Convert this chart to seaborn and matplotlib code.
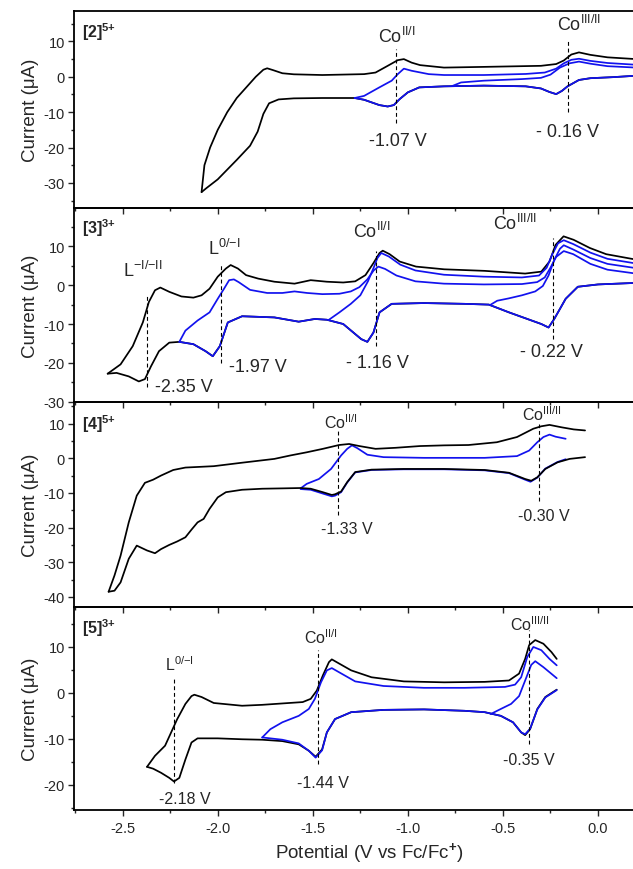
import matplotlib
matplotlib.use("Agg")
import matplotlib.pyplot as plt
from matplotlib.ticker import MultipleLocator, FormatStrFormatter
import pandas as pd
import seaborn as sns

BLACK = "#000000"
BLUE = "#1212ee"

# ---------------- panel [2]5+ ----------------
P1_UP_V = [-2.085, -2.070, -2.040, -2.000, -1.950, -1.900, -1.850, -1.800, -1.760, -1.740, -1.710, -1.660, -1.600,
           -1.450, -1.230, -1.170, -1.106, -1.053, -1.021, -0.980, -0.936, -0.810, -0.600, -0.300, -0.220, -0.180,
           -0.140, -0.100, -0.040, 0.050, 0.200]
P1_UP_I = [-32.6, -25.0, -20.0, -15.0, -10.0, -6.0, -3.0, 0.0, 2.0, 2.4, 1.9, 1.0, 0.7,
           0.5, 0.75, 1.2, 3.1, 4.7, 5.0, 4.0, 3.3, 2.6, 2.8, 3.1, 3.6, 4.6,
           6.3, 6.9, 6.2, 5.5, 5.0]
P1_LOWL_V = [-2.085, -2.060, -2.000, -1.900, -1.830, -1.790, -1.760, -1.730, -1.680, -1.600, -1.450, -1.280]
P1_LOWL_I = [-32.6, -31.5, -29.0, -23.5, -19.5, -15.5, -10.5, -7.5, -6.4, -6.1, -6.0, -6.0]
P1_LOW_V = [-1.280, -1.230, -1.150, -1.106, -1.074, -1.043, -1.000, -0.940, -0.810, -0.600, -0.380, -0.300,
            -0.255, -0.220, -0.190, -0.160, -0.100, -0.040, 0.080, 0.200]
P1_LOW_I = [-6.0, -6.5, -8.0, -8.4, -8.0, -6.3, -4.4, -3.0, -2.7, -2.5, -2.7, -3.3,
            -4.3, -4.9, -4.0, -2.7, -0.9, -0.4, -0.1, 0.3]
P1_BLUE_A_V = [-1.280, -1.230, -1.150, -1.085, -1.053, -1.021, -0.980, -0.890, -0.810, -0.600, -0.380, -0.280,
               -0.220, -0.180, -0.140, -0.100, -0.040, 0.050, 0.200]
P1_BLUE_A_I = [-6.0, -5.4, -3.0, -1.1, 0.75, 2.3, 1.7, 0.75, 0.5, 0.5, 0.8, 1.2,
               2.3, 3.8, 4.8, 5.1, 4.5, 3.9, 3.4]
P1_BLUE_B_V = [-0.766, -0.720, -0.600, -0.400, -0.300, -0.250, -0.200, -0.150, -0.100, -0.040, 0.050, 0.200]
P1_BLUE_B_I = [-2.6, -1.6, -1.1, -0.65, -0.3, 0.6, 2.6, 3.8, 4.3, 3.7, 3.0, 2.6]

P1_DASH_V = [-1.06, -0.16]
P1_DASH_LO = [-13.1, -10.0]
P1_DASH_HI = [7.8, 10.8]
P1_TEXT = [r"Co$^{\rm II/I}$", r"Co$^{\rm III/II}$", "-1.07 V", "- 0.16 V"]
P1_TEXT_V = [-1.06, -0.10, -1.05, -0.16]
P1_TEXT_I = [11.5, 14.9, -18.0, -15.5]

# ---------------- panel [3]3+ ----------------
P2_UP_V = [-2.579, -2.511, -2.447, -2.394, -2.362, -2.330, -2.302, -2.255, -2.191, -2.128, -2.085, -2.043, -2.000,
           -1.957, -1.932, -1.894, -1.851, -1.787, -1.702, -1.596, -1.511, -1.426, -1.340, -1.277, -1.223, -1.181,
           -1.149, -1.132, -1.096, -1.043, -0.957, -0.809, -0.596, -0.383, -0.298, -0.255, -0.223, -0.181, -0.128,
           -0.043, 0.043, 0.200]
P2_UP_I = [-22.8, -20.4, -15.7, -9.6, -4.3, -1.3, -0.6, -1.7, -2.9, -3.2, -2.6, -0.9, 2.2,
           4.3, 5.2, 4.3, 2.6, 1.7, 0.9, 0.4, 1.3, 0.9, 0.7, 1.0, 2.6, 5.7,
           8.3, 8.9, 8.0, 6.1, 4.8, 4.1, 3.7, 3.0, 3.5, 6.1, 10.4, 12.6, 11.7,
           9.6, 8.0, 6.6]
P2_LOWL_V = [-2.579, -2.532, -2.468, -2.415, -2.383, -2.351, -2.309, -2.255, -2.202]
P2_LOWL_I = [-22.8, -22.6, -23.5, -24.8, -24.2, -20.9, -17.0, -14.8, -14.6]
P2_LOW_V = [-2.202, -2.128, -2.064, -2.026, -1.989, -1.947, -1.872, -1.702, -1.574, -1.489, -1.426, -1.340,
            -1.245, -1.213, -1.181, -1.149, -1.085, -0.915, -0.702, -0.574, -0.468, -0.298, -0.260, -0.230,
            -0.170, -0.106, 0.000, 0.200]
P2_LOW_I = [-14.6, -15.2, -17.0, -18.3, -15.7, -9.6, -8.0, -8.3, -9.4, -8.7, -8.9, -10.0,
            -13.9, -14.6, -12.2, -7.0, -4.8, -4.6, -4.8, -5.0, -7.0, -10.0, -10.9, -8.7,
            -3.5, -0.4, 0.2, 0.6]
P2_BLUE_A_V = [-2.202, -2.170, -2.106, -2.043, -2.000, -1.968, -1.940, -1.915, -1.890, -1.830, -1.740, -1.660,
               -1.596, -1.530, -1.450, -1.360, -1.300, -1.255, -1.213, -1.180, -1.155, -1.120, -1.060, -0.960,
               -0.810, -0.600, -0.400, -0.320, -0.280, -0.250, -0.220, -0.180, -0.130, -0.040, 0.050, 0.200]
P2_BLUE_A_I = [-14.6, -11.7, -9.1, -7.0, -3.5, -1.0, 1.3, 1.5, 0.8, -1.2, -2.0, -2.0,
               -1.6, -2.0, -2.3, -2.2, -1.6, -0.5, 1.5, 3.8, 4.8, 4.2, 2.5, 1.0,
               0.4, 0.2, 0.3, 0.8, 2.0, 4.5, 7.3, 8.8, 8.0, 5.5, 4.0, 3.0]
P2_BLUE_B_V = [-1.415, -1.360, -1.300, -1.250, -1.210, -1.180, -1.160, -1.140, -1.100, -1.040, -0.960, -0.810,
               -0.600, -0.400, -0.310, -0.270, -0.240, -0.210, -0.180, -0.130, -0.040, 0.050, 0.200]
P2_BLUE_B_I = [-8.9, -7.0, -4.8, -2.6, 1.0, 4.5, 7.0, 8.3, 7.4, 5.3, 3.8, 2.7,
               2.2, 2.0, 2.5, 4.5, 8.0, 10.8, 11.6, 10.6, 8.4, 6.8, 5.6]
P2_BLUE_C_V = [-0.564, -0.530, -0.470, -0.400, -0.330, -0.290, -0.260, -0.230, -0.200, -0.180, -0.130, -0.040,
               0.050, 0.200]
P2_BLUE_C_I = [-5.0, -4.0, -3.4, -2.6, -1.6, -0.2, 2.5, 6.5, 9.4, 10.3, 9.2, 7.0,
               5.5, 4.4]

P2_DASH_V = [-2.372, -1.983, -1.170, -0.234]
P2_DASH_LO = [-26.3, -20.0, -15.7, -13.9]
P2_DASH_HI = [-2.2, 5.7, 8.7, 12.2]
P2_TEXT = [r"L$^{\rm {-}I/{-}II}$", r"L$^{\rm 0/{-}I}$", r"Co$^{\rm II/I}$", r"Co$^{\rm III/II}$",
           "-2.35 V", "-1.97 V", "- 1.16 V", "- 0.22 V"]
P2_TEXT_V = [-2.394, -1.968, -1.191, -0.434, -2.18, -1.79, -1.16, -0.247]
P2_TEXT_I = [3.9, 9.6, 13.9, 16.1, -26.1, -20.9, -20.0, -17.0]

# ---------------- panel [4]5+ ----------------
P3_UP_V = [-2.574, -2.543, -2.511, -2.468, -2.426, -2.383, -2.340, -2.298, -2.234, -2.170, -2.021, -1.872, -1.702,
           -1.617, -1.532, -1.447, -1.362, -1.309, -1.255, -1.170, -1.064, -0.936, -0.809, -0.681, -0.532, -0.426,
           -0.340, -0.298, -0.255, -0.191, -0.128, -0.068]
P3_UP_I = [-38.5, -33.8, -28.1, -18.5, -10.8, -7.1, -6.2, -5.0, -3.4, -2.7, -2.3, -1.3, -0.2,
           0.8, 1.7, 2.7, 3.8, 4.1, 3.5, 2.7, 3.0, 3.5, 3.7, 3.8, 4.6, 6.1,
           8.5, 9.2, 9.6, 8.9, 8.3, 8.0]
P3_LOWL_V = [-2.574, -2.543, -2.511, -2.468, -2.426, -2.372, -2.330, -2.298, -2.255, -2.213, -2.170, -2.138,
             -2.106, -2.074, -2.043, -2.000, -1.957, -1.872, -1.766, -1.660, -1.564]
P3_LOWL_I = [-38.5, -38.2, -35.8, -29.0, -25.2, -26.6, -27.4, -26.2, -25.0, -24.0, -22.8, -20.6,
             -18.5, -17.5, -14.6, -11.3, -9.8, -9.1, -8.8, -8.7, -8.6]
P3_LOW_V = [-1.564, -1.511, -1.447, -1.400, -1.383, -1.351, -1.319, -1.277, -1.191, -1.021, -0.809, -0.596,
            -0.468, -0.383, -0.351, -0.319, -0.277, -0.213, -0.149, -0.068]
P3_LOW_I = [-8.6, -8.8, -9.8, -10.6, -10.4, -9.6, -6.9, -4.0, -3.3, -3.1, -3.1, -3.4,
            -4.2, -6.0, -6.5, -5.5, -3.1, -1.2, -0.2, 0.3]
P3_BLUE_V = [-1.564, -1.532, -1.468, -1.404, -1.351, -1.319, -1.294, -1.266, -1.213, -1.128, -0.915, -0.596,
             -0.426, -0.362, -0.319, -0.287, -0.255, -0.223, -0.170]
P3_BLUE_I = [-8.7, -7.4, -6.0, -3.1, 0.8, 2.7, 3.7, 2.9, 1.0, 0.3, 0.1, 0.1,
             0.6, 2.2, 4.6, 6.1, 6.8, 6.2, 5.6]
P3_BLUE_LOW_V = [-1.564, -1.511, -1.447, -1.400, -1.383, -1.351, -1.319, -1.277, -1.191, -1.021, -0.809, -0.596,
                 -0.468, -0.383, -0.355, -0.319, -0.277, -0.213, -0.170]
P3_BLUE_LOW_I = [-8.9, -9.1, -10.2, -11.0, -10.8, -9.8, -7.0, -4.1, -3.4, -3.2, -3.2, -3.5,
                 -4.3, -6.2, -6.8, -5.6, -3.0, -1.1, -0.3]

P3_DASH_V = [-1.366, -0.309]
P3_DASH_LO = [-16.5, -12.2]
P3_DASH_HI = [8.0, 10.0]
P3_TEXT = [r"Co$^{\rm II/I}$", r"Co$^{\rm III/II}$", "-1.33 V", "-0.30 V"]
P3_TEXT_V = [-1.351, -0.294, -1.319, -0.287]
P3_TEXT_I = [10.4, 12.8, -20.4, -16.5]

# ---------------- panel [5]3+ ----------------
P4_UP_V = [-2.372, -2.330, -2.277, -2.245, -2.213, -2.170, -2.138, -2.123, -2.085, -2.021, -1.872, -1.766, -1.660,
           -1.553, -1.511, -1.479, -1.447, -1.415, -1.400, -1.362, -1.298, -1.191, -1.021, -0.809, -0.596, -0.468,
           -0.415, -0.383, -0.362, -0.330, -0.287, -0.245, -0.217]
P4_UP_I = [-16.1, -13.7, -11.5, -8.6, -5.7, -2.4, -0.7, -0.4, -0.9, -2.2, -2.8, -2.6, -2.3,
           -2.0, -1.3, 0.5, 3.8, 6.7, 7.3, 6.4, 4.9, 3.4, 2.5, 2.3, 2.4, 2.7,
           4.2, 7.4, 10.4, 11.5, 10.7, 8.9, 7.4]
P4_LOWL_V = [-2.372, -2.340, -2.298, -2.255, -2.230, -2.202, -2.170, -2.138, -2.106, -2.000, -1.872, -1.766]
P4_LOWL_I = [-16.1, -16.5, -17.4, -18.5, -19.3, -18.5, -14.5, -10.8, -9.9, -9.9, -10.1, -10.2]
P4_LOW_V = [-1.766, -1.660, -1.574, -1.521, -1.485, -1.451, -1.426, -1.383, -1.298, -1.128, -0.915, -0.702,
            -0.596, -0.511, -0.447, -0.404, -0.383, -0.357, -0.319, -0.277, -0.217]
P4_LOW_I = [-10.2, -10.5, -11.2, -12.6, -13.9, -12.3, -8.6, -5.7, -4.2, -3.7, -3.6, -3.9,
            -4.2, -5.0, -6.4, -8.6, -9.2, -7.9, -3.5, -0.9, 0.7]
P4_BLUE_LOW_I = [-9.7, -10.2, -11.0, -12.6, -14.1, -12.5, -8.6, -5.7, -4.2, -3.7, -3.6, -3.9,
                 -4.2, -5.0, -6.4, -8.6, -9.0, -7.8, -3.6, -1.0, 0.6]
P4_BLUE_A_V = [-1.766, -1.723, -1.660, -1.574, -1.521, -1.489, -1.457, -1.426, -1.400, -1.362, -1.277, -1.128,
               -0.915, -0.702, -0.489, -0.436, -0.404, -0.372, -0.340, -0.298, -0.255, -0.217]
P4_BLUE_A_I = [-9.7, -7.9, -6.4, -5.0, -3.5, -1.3, 2.3, 4.9, 5.4, 4.5, 2.5, 1.5,
               1.1, 1.1, 1.3, 1.8, 3.4, 7.8, 10.0, 9.3, 7.4, 6.0]
P4_BLUE_B_V = [-0.564, -0.511, -0.457, -0.415, -0.383, -0.351, -0.330, -0.287, -0.217]
P4_BLUE_B_I = [-4.6, -3.5, -2.4, -0.7, 2.7, 6.1, 6.9, 5.6, 3.2]

P4_DASH_V = [-2.230, -1.472, -0.362]
P4_DASH_LO = [-19.6, -15.5, -11.2]
P4_DASH_HI = [3.4, 9.3, 13.6]
P4_TEXT = [r"L$^{\rm 0/{-}I}$", r"Co$^{\rm II/I}$", r"Co$^{\rm III/II}$", "-2.18 V", "-1.44 V", "-0.35 V"]
P4_TEXT_V = [-2.202, -1.455, -0.357, -2.174, -1.447, -0.362]
P4_TEXT_I = [6.4, 12.2, 15.1, -23.0, -19.6, -14.5]

PANEL_LABELS = [r"$\mathbf{[2]^{5{+}}}$", r"$\mathbf{[3]^{3{+}}}$", r"$\mathbf{[4]^{5{+}}}$", r"$\mathbf{[5]^{3{+}}}$"]
YLIMS = [(-37.1, 18.6), (-30.1, 19.9), (-42.9, 16.2), (-25.5, 18.7)]
XLIM = (-2.756, 0.2)

sns.set_theme(style="ticks")
plt.rcParams["font.family"] = ["Liberation Sans", "DejaVu Sans"]
plt.rcParams["mathtext.fontset"] = "custom"
plt.rcParams["mathtext.rm"] = "Liberation Sans"
plt.rcParams["mathtext.bf"] = "Liberation Sans:bold"
plt.rcParams["mathtext.it"] = "Liberation Sans:italic"
plt.rcParams["axes.unicode_minus"] = False
plt.rcParams["lines.dashed_pattern"] = [3.5, 2.5]


def frame(segments):
    parts = []
    for k, (v, i) in enumerate(segments):
        parts.append(pd.DataFrame({"V": v, "I": i, "seg": k}))
    return pd.concat(parts, ignore_index=True)


def draw_panel(ax, black, blue, blue_on_top, dash, texts, fs, ylim, label):
    layers = [(frame(black), BLACK), (frame(blue), BLUE)]
    if not blue_on_top:
        layers = layers[::-1]
    for df, col in layers:
        sns.lineplot(data=df, x="V", y="I", units="seg", estimator=None, sort=False,
                     color=col, lw=1.25, ax=ax, legend=False)
    dv, dlo, dhi = dash
    ax.vlines(dv, dlo, dhi, colors="black", linestyles="dashed", lw=0.8)
    for t, x, y in zip(*texts):
        ax.text(x, y, t, ha="center", va="center", fontsize=fs)
    ax.text(0.014, 0.87, label, transform=ax.transAxes, ha="left", va="baseline", fontsize=11.5)
    ax.set_xlim(*XLIM)
    ax.set_ylim(*ylim)
    ax.xaxis.set_major_locator(MultipleLocator(0.5))
    ax.xaxis.set_minor_locator(MultipleLocator(0.25))
    ax.xaxis.set_major_formatter(FormatStrFormatter("%.1f"))
    ax.yaxis.set_major_locator(MultipleLocator(10))
    ax.yaxis.set_minor_locator(MultipleLocator(5))
    ax.tick_params(axis="both", which="major", direction="out", length=4, width=1.0, labelsize=10.5, pad=2.5)
    ax.tick_params(axis="both", which="minor", direction="out", length=2.5, width=1.0)
    ax.tick_params(axis="x", top=False, labelbottom=False)
    ax.tick_params(axis="y", right=False)
    for sp in ax.spines.values():
        sp.set_linewidth(1.3)
        sp.set_color("black")
    ax.set_xlabel("")
    ax.set_ylabel("Current (\u03bcA)", fontsize=13.5)
    ax.yaxis.set_label_coords(-0.062, 0.5)
    ax.set_facecolor("none")


W, H = 633, 870
fig = plt.figure(figsize=(W / 100, H / 100), dpi=100)
edges = [12, 209, 403, 608, 811]
axes = []
for k in range(4):
    top, bot = edges[k], edges[k + 1]
    axes.append(fig.add_axes([74 / W, 1 - bot / H, 562 / W, (bot - top) / H]))

draw_panel(axes[0],
           [(P1_UP_V, P1_UP_I), (P1_LOWL_V + P1_LOW_V, P1_LOWL_I + P1_LOW_I)],
           [(P1_BLUE_A_V, P1_BLUE_A_I), (P1_BLUE_B_V, P1_BLUE_B_I), (P1_LOW_V, P1_LOW_I)],
           True, (P1_DASH_V, P1_DASH_LO, P1_DASH_HI), (P1_TEXT, P1_TEXT_V, P1_TEXT_I), 13,
           YLIMS[0], PANEL_LABELS[0])
draw_panel(axes[1],
           [(P2_UP_V, P2_UP_I), (P2_LOWL_V + P2_LOW_V, P2_LOWL_I + P2_LOW_I)],
           [(P2_BLUE_A_V, P2_BLUE_A_I), (P2_BLUE_B_V, P2_BLUE_B_I), (P2_BLUE_C_V, P2_BLUE_C_I),
            (P2_LOW_V, P2_LOW_I)],
           True, (P2_DASH_V, P2_DASH_LO, P2_DASH_HI), (P2_TEXT, P2_TEXT_V, P2_TEXT_I), 13,
           YLIMS[1], PANEL_LABELS[1])
draw_panel(axes[2],
           [(P3_UP_V, P3_UP_I), (P3_LOWL_V + P3_LOW_V, P3_LOWL_I + P3_LOW_I)],
           [(P3_BLUE_V, P3_BLUE_I), (P3_BLUE_LOW_V, P3_BLUE_LOW_I)],
           False, (P3_DASH_V, P3_DASH_LO, P3_DASH_HI), (P3_TEXT, P3_TEXT_V, P3_TEXT_I), 11.5,
           YLIMS[2], PANEL_LABELS[2])
draw_panel(axes[3],
           [(P4_UP_V, P4_UP_I), (P4_LOWL_V + P4_LOW_V, P4_LOWL_I + P4_LOW_I)],
           [(P4_BLUE_A_V, P4_BLUE_A_I), (P4_BLUE_B_V, P4_BLUE_B_I), (P4_LOW_V, P4_BLUE_LOW_I)],
           True, (P4_DASH_V, P4_DASH_LO, P4_DASH_HI), (P4_TEXT, P4_TEXT_V, P4_TEXT_I), 11.5,
           YLIMS[3], PANEL_LABELS[3])

axes[3].tick_params(axis="x", labelbottom=True, pad=4)
axes[3].set_xlabel("Potential (V vs Fc/Fc$^{\\mathbf{+}}$)", fontsize=13.5)
axes[3].xaxis.set_label_coords(0.525, -0.15)

fig.savefig("out.png", dpi=100)
